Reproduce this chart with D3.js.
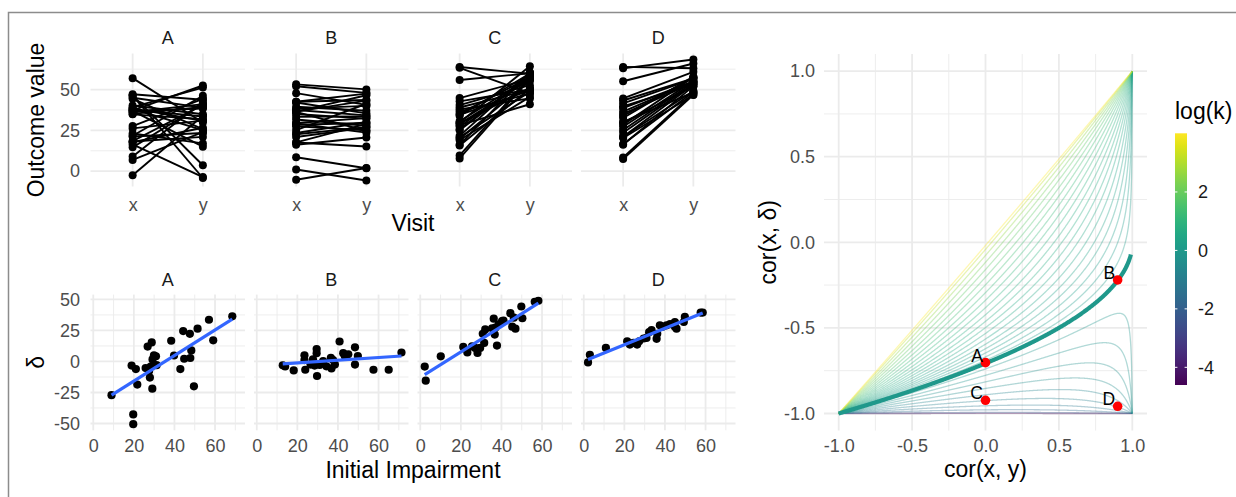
<!DOCTYPE html>
<html>
<head>
<meta charset="utf-8">
<script src="https://cdn.jsdelivr.net/npm/d3@7"></script>
<style>
  body { margin: 0; background: #fff; }
  text { font-family: "Liberation Sans", Arial, Helvetica, sans-serif; }
</style>
</head>
<body>
<svg id="chart" width="1236" height="497"></svg>
<script>
// ---------- data ----------
const groups = ["A", "B", "C", "D"];
const visits = ["x", "y"];
const maxScore = 66;   // initial impairment = maxScore - x, delta = y - x

const impA = [9.0, 18.9, 21.0, 21.7, 19.7, 19.7, 25.8, 26.8, 28.8, 27.9, 29.1, 28.3, 27.5, 29.9, 30.9,
              31.2, 29.2, 38.4, 39.8, 42.9, 44.3, 44.8, 47.6, 48.3, 47.8, 49.6, 51.4, 57.0, 59.1, 68.5];
const dA   = [-27.2, -3.3, -6.1, -18.6, -42.7, -50.5, -5.3, 12.0, 15.3, -13.0, -21.9, -4.2, -7.6, 5.0, 4.2,
              -3.0, 1.6, 16.7, 4.8, -6.1, 24.5, 2.2, 22.3, 8.9, 2.8, -20.0, 26.4, 33.6, 17.0, 36.4];

const impB = [12.8, 14.0, 18.2, 23.5, 23.5, 23.9, 26.5, 29.5, 29.5, 28.5, 29.7, 31.0, 32.7, 36.5, 36.8,
              38.5, 37.6, 40.8, 42.6, 45.1, 48.4, 48.4, 49.8, 57.5, 65.0, 71.3, 27.7, 34.3, 43.4];
const dB   = [-3.1, -4.0, -7.2, 5.0, 1.1, -6.7, -2.5, 10.0, 6.7, -3.3, -11.7, -2.8, 0.3, 3.0, -5.6,
              -2.5, 1.1, 16.1, 6.7, 5.8, 11.4, -2.5, 4.4, -6.7, -6.7, 7.2, 1.7, -3.9, 4.4];

const impC = [2.2, 2.7, 10.1, 21.2, 23.2, 27.0, 28.2, 29.5, 30.8, 32.0, 31.5, 36.2, 36.7, 37.8, 37.0,
              38.6, 40.3, 44.4, 45.3, 46.9, 46.1, 49.8, 50.3, 56.4, 58.2, 25.5, 41.0, 35.4];
const dC   = [-4.1, -15.5, 4.1, 11.7, 7.3, 10.9, 6.8, 10.9, 22.3, 25.8, 14.9, 34.5, 21.7, 12.8, 27.2,
              29.9, 32.6, 38.9, 28.0, 26.4, 35.3, 44.3, 34.8, 48.1, 48.9, 12.2, 33.0, 26.7];

const impD = [2.1, 3.0, 10.9, 21.4, 22.7, 26.3, 27.3, 30.9, 32.2, 33.4, 35.9, 36.2, 37.5, 38.8, 40.8,
              44.9, 45.7, 44.9, 49.8, 49.3, 57.6, 58.6, 24.5, 29.5, 42.5];
const dD   = [-0.8, 5.4, 10.9, 16.3, 13.6, 13.6, 16.3, 19.0, 23.6, 25.3, 18.2, 22.3, 29.1, 28.0, 29.1,
              31.8, 26.4, 28.0, 35.9, 31.8, 39.4, 39.4, 15.0, 18.5, 30.0];

const impByGroup = [impA, impB, impC, impD];
const dByGroup = [dA, dB, dC, dD];

// ratio k = sd(y) / sd(x) for the theory curves
const kLow  = [0.01, 0.11, 0.21, 0.31, 0.41, 0.51, 0.61, 0.71, 0.81, 0.91];
const kHigh = [1.05, 1.11, 1.18, 1.26, 1.35, 1.46, 1.59, 1.74, 1.92, 2.14,
               2.42, 2.78, 3.25, 3.9, 4.8, 6.2, 8.5, 13, 24, 55];
const kRef = 1;

// observed correlations of the four datasets
const refLabels = ["A", "B", "C", "D"];
const refCorXY = [0.0, 0.9, 0.0, 0.9];
const refCorXD = [-0.703, -0.22, -0.923, -0.958];

// ---------- setup ----------
const svg = d3.select("#chart");
const tickColor = "#4d4d4d", gridColor = "#ebebeb";
const tickSize = 18, titleSize = 23;

svg.append("rect")
  .attr("x", 8.5).attr("y", 12.5).attr("width", 1400).attr("height", 700)
  .attr("fill", "none").attr("stroke", "#8c8c8c").attr("stroke-width", 1.5);

function expand(ext, f = 0.05) {
  const d = (ext[1] - ext[0]) * f;
  return [ext[0] - d, ext[1] + d];
}
function minorsOf(major, domain) {
  const step = major[1] - major[0];
  const out = [];
  for (let v = major[0] - step / 2; v <= major[major.length - 1] + step; v += step) {
    if (v > domain[0] && v < domain[1]) out.push(v);
  }
  return out;
}
function hLines(g, ys, vals, x0, x1, w) {
  g.selectAll(null).data(vals).join("line")
    .attr("x1", x0).attr("x2", x1)
    .attr("y1", d => ys(d)).attr("y2", d => ys(d))
    .attr("stroke", gridColor).attr("stroke-width", w);
}
function vLines(g, xpos, y0, y1, w) {
  g.selectAll(null).data(xpos).join("line")
    .attr("y1", y0).attr("y2", y1)
    .attr("x1", d => d).attr("x2", d => d)
    .attr("stroke", gridColor).attr("stroke-width", w);
}
function styleAxis(a, color, size) {
  a.select(".domain").remove();
  a.selectAll(".tick line").remove();
  a.selectAll("text").attr("fill", color).style("font-size", size + "px")
    .style("font-family", '"Liberation Sans", Arial, sans-serif');
}
function lmFit(xs, ys) {
  const mx = d3.mean(xs), my = d3.mean(ys);
  let sxy = 0, sxx = 0;
  xs.forEach((x, i) => { sxy += (x - mx) * (ys[i] - my); sxx += (x - mx) * (x - mx); });
  const b = sxy / sxx;
  return [my - b * mx, b];
}

const panelLeft0 = 90.5, panelStep = 163.5, panelW = 154.5;

// ---------- top row: outcome value by visit ----------
const baseVals = impByGroup.map(a => a.map(v => maxScore - v));
const followVals = impByGroup.map((a, i) => a.map((v, j) => maxScore - v + dByGroup[i][j]));
const topTop = 53.5, topBottom = 186.5;
const yTop = d3.scaleLinear()
  .domain(expand(d3.extent([...baseVals.flat(), ...followVals.flat()])))
  .range([topBottom, topTop]);
const topMajor = [0, 25, 50];

groups.forEach((grp, i) => {
  const left = panelLeft0 + i * panelStep;
  const xv = d3.scalePoint().domain(visits).range([left, left + panelW]).padding(0.6);
  const g = svg.append("g");
  hLines(g, yTop, minorsOf(topMajor, yTop.domain()), left, left + panelW, 0.9);
  hLines(g, yTop, topMajor, left, left + panelW, 1.8);
  vLines(g, visits.map(v => xv(v)), topTop, topBottom, 1.8);

  const rows = baseVals[i].map((v, j) => ({ x: v, y: followVals[i][j] }));
  g.selectAll(null).data(rows).join("line")
    .attr("x1", xv("x")).attr("x2", xv("y"))
    .attr("y1", d => yTop(d.x)).attr("y2", d => yTop(d.y))
    .attr("stroke", "#000").attr("stroke-width", 1.9);
  g.selectAll(null).data(rows).join("circle")
    .attr("cx", xv("x")).attr("cy", d => yTop(d.x)).attr("r", 4).attr("fill", "#000");
  g.selectAll(null).data(rows).join("circle")
    .attr("cx", xv("y")).attr("cy", d => yTop(d.y)).attr("r", 4).attr("fill", "#000");

  g.append("text").attr("x", left + panelW / 2).attr("y", 44)
    .attr("text-anchor", "middle").attr("fill", "#1a1a1a").style("font-size", tickSize + "px").text(grp);

  const ax = svg.append("g").attr("transform", `translate(0,${topBottom})`)
    .call(d3.axisBottom(xv).tickSize(0).tickPadding(12));
  styleAxis(ax, tickColor, tickSize);
  if (i === 0) {
    const ay = svg.append("g").attr("transform", `translate(${left},0)`)
      .call(d3.axisLeft(yTop).tickValues(topMajor).tickSize(0).tickPadding(10.5));
    styleAxis(ay, tickColor, tickSize);
  }
});

svg.append("text").attr("transform", `translate(43.5,${(topTop + topBottom) / 2}) rotate(-90)`)
  .attr("text-anchor", "middle").style("font-size", titleSize + "px").text("Outcome value");
svg.append("text").attr("x", panelLeft0 + (3 * panelStep + panelW) / 2).attr("y", 231)
  .attr("text-anchor", "middle").style("font-size", titleSize + "px").text("Visit");

// ---------- bottom row: delta vs initial impairment ----------
const botTop = 294.6, botBottom = 430.3;
const yBot = d3.scaleLinear().domain(expand(d3.extent(dByGroup.flat()))).range([botBottom, botTop]);
const botMajorY = [-50, -25, 0, 25, 50];
const botMajorX = [0, 20, 40, 60];
const impDomain = expand(d3.extent(impByGroup.flat()));

groups.forEach((grp, i) => {
  const left = panelLeft0 + i * panelStep;
  const xs = d3.scaleLinear().domain(impDomain).range([left, left + panelW]);
  const g = svg.append("g");
  hLines(g, yBot, minorsOf(botMajorY, yBot.domain()), left, left + panelW, 0.9);
  vLines(g, minorsOf(botMajorX, impDomain).map(v => xs(v)), botTop, botBottom, 0.9);
  hLines(g, yBot, botMajorY, left, left + panelW, 1.8);
  vLines(g, botMajorX.map(v => xs(v)), botTop, botBottom, 1.8);

  const pts = impByGroup[i].map((v, j) => ({ x: v, d: dByGroup[i][j] }));
  g.selectAll(null).data(pts).join("circle")
    .attr("cx", d => xs(d.x)).attr("cy", d => yBot(d.d)).attr("r", 4.1).attr("fill", "#000");

  const [a, b] = lmFit(impByGroup[i], dByGroup[i]);
  const ext = d3.extent(impByGroup[i]);
  g.append("path")
    .attr("d", d3.line().x(v => xs(v)).y(v => yBot(a + b * v))(ext))
    .attr("stroke", "#3366FF").attr("stroke-width", 3.2).attr("fill", "none");

  g.append("text").attr("x", left + panelW / 2).attr("y", 285.7)
    .attr("text-anchor", "middle").attr("fill", "#1a1a1a").style("font-size", tickSize + "px").text(grp);

  const ax = svg.append("g").attr("transform", `translate(0,${botBottom})`)
    .call(d3.axisBottom(xs).tickValues(botMajorX).tickFormat(d => String(d)).tickSize(0).tickPadding(9));
  styleAxis(ax, tickColor, tickSize);
  if (i === 0) {
    const ay = svg.append("g").attr("transform", `translate(${left},0)`)
      .call(d3.axisLeft(yBot).tickValues(botMajorY).tickFormat(d => String(d)).tickSize(0).tickPadding(10.5));
    styleAxis(ay, tickColor, tickSize);
  }
});

svg.append("text").attr("transform", `translate(43.5,${(botTop + botBottom) / 2}) rotate(-90)`)
  .attr("text-anchor", "middle").style("font-size", titleSize + "px").text("δ");
svg.append("text").attr("x", panelLeft0 + (3 * panelStep + panelW) / 2).attr("y", 478)
  .attr("text-anchor", "middle").style("font-size", titleSize + "px").text("Initial Impairment");

// ---------- right panel: cor(x, delta) vs cor(x, y) ----------
const rL = 824, rR = 1147, rT = 54, rB = 430.6;
const xr = d3.scaleLinear().domain([-1.1, 1.1]).range([rL, rR]);
const yr = d3.scaleLinear().domain([-1.1, 1.1]).range([rB, rT]);
const corMajor = [-1, -0.5, 0, 0.5, 1];
const rg = svg.append("g");
hLines(rg, yr, minorsOf(corMajor, yr.domain()), rL, rR, 0.9);
vLines(rg, minorsOf(corMajor, xr.domain()).map(v => xr(v)), rT, rB, 0.9);
hLines(rg, yr, corMajor, rL, rR, 1.8);
vLines(rg, corMajor.map(v => xr(v)), rT, rB, 1.8);

const logAll = [...kLow, kRef, ...kHigh].map(Math.log);
const color = d3.scaleSequential(d3.interpolateViridis).domain(d3.extent(logAll));

// correlation of x with y - x, for cor(x, y) = r and sd ratio k
const corXD = (r, k) => (r * k - 1) / Math.sqrt(k * k - 2 * r * k + 1);
const rGrid = d3.range(0, 801).map(i => Math.min(1, -1 + i * 0.0025));
const curve = d3.line().x(d => xr(d[0])).y(d => yr(d[1]));

[...kLow, ...kHigh].forEach(k => {
  rg.append("path")
    .attr("d", curve(rGrid.map(r => [r, corXD(r, k)])))
    .attr("fill", "none").attr("stroke", color(Math.log(k)))
    .attr("stroke-opacity", 0.35).attr("stroke-width", 1.3);
});
rg.append("path")
  .attr("d", curve(rGrid.filter(r => r <= 0.99).map(r => [r, corXD(r, kRef)])))
  .attr("fill", "none").attr("stroke", color(Math.log(kRef))).attr("stroke-width", 4.2);

rg.selectAll(null).data(refLabels).join("circle")
  .attr("cx", (d, i) => xr(refCorXY[i])).attr("cy", (d, i) => yr(refCorXD[i]))
  .attr("r", 4.8).attr("fill", "#ff0000");
rg.selectAll(null).data(refLabels).join("text")
  .attr("x", (d, i) => xr(refCorXY[i]) - 2.5).attr("y", (d, i) => yr(refCorXD[i]) - 1)
  .attr("text-anchor", "end").attr("fill", "#000").style("font-size", "17.5px").text(d => d);

const rax = svg.append("g").attr("transform", `translate(0,${rB})`)
  .call(d3.axisBottom(xr).tickValues(corMajor).tickFormat(d => d.toFixed(1)).tickSize(0).tickPadding(9));
styleAxis(rax, tickColor, tickSize);
const ray = svg.append("g").attr("transform", `translate(${rL},0)`)
  .call(d3.axisLeft(yr).tickValues(corMajor).tickFormat(d => d.toFixed(1)).tickSize(0).tickPadding(9));
styleAxis(ray, tickColor, tickSize);

svg.append("text").attr("x", (rL + rR) / 2).attr("y", 477)
  .attr("text-anchor", "middle").style("font-size", titleSize + "px").text("cor(x, y)");
svg.append("text").attr("transform", `translate(776,${(rT + rB) / 2}) rotate(-90)`)
  .attr("text-anchor", "middle").style("font-size", titleSize + "px").text("cor(x, δ)");

// ---------- colour bar ----------
const barX = 1175, barW = 12, barT = 133.3, barB = 385;
const yBar = d3.scaleLinear().domain(color.domain()).range([barB, barT]);
const grad = svg.append("defs").append("linearGradient").attr("id", "vir")
  .attr("x1", 0).attr("y1", 1).attr("x2", 0).attr("y2", 0);
grad.selectAll("stop").data(d3.range(0, 1.0001, 0.05)).join("stop")
  .attr("offset", d => d).attr("stop-color", d => d3.interpolateViridis(d));
svg.append("rect").attr("x", barX).attr("y", barT).attr("width", barW).attr("height", barB - barT)
  .attr("fill", "url(#vir)");
const legTicks = [-4, -2, 0, 2];
svg.selectAll(null).data(legTicks).join("g").each(function (t) {
  const g = d3.select(this);
  g.append("line").attr("x1", barX).attr("x2", barX + 2.4).attr("y1", yBar(t)).attr("y2", yBar(t))
    .attr("stroke", "#fff").attr("stroke-width", 1);
  g.append("line").attr("x1", barX + barW - 2.4).attr("x2", barX + barW).attr("y1", yBar(t)).attr("y2", yBar(t))
    .attr("stroke", "#fff").attr("stroke-width", 1);
});
const lax = svg.append("g").attr("transform", `translate(${barX + barW},0)`)
  .call(d3.axisRight(yBar).tickValues(legTicks).tickFormat(d => String(d)).tickSize(0).tickPadding(11));
styleAxis(lax, "#1a1a1a", tickSize);
svg.append("text").attr("x", barX).attr("y", 119).style("font-size", titleSize + "px").text("log(k)");
</script>
</body>
</html>
